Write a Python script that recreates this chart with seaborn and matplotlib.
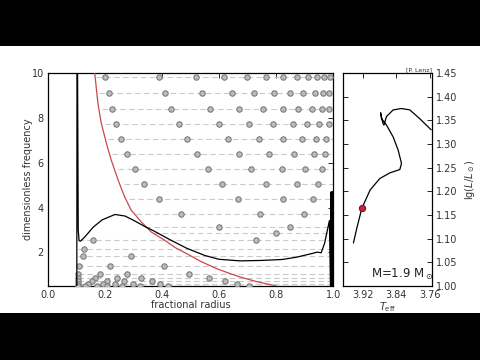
import matplotlib
matplotlib.use("Agg")
import matplotlib.pyplot as plt
import seaborn as sns
import pandas as pd
from matplotlib.patches import Rectangle

# ---------------- data ----------------
# mode frequencies (dimensionless) and where each dashed mode line starts
mode_freq = [9.83, 9.12, 8.40, 7.72, 7.04, 6.37, 5.71, 5.03, 4.37, 3.71, 3.15,
             2.85, 2.57, 2.17, 1.82, 1.37, 1.05, 0.87, 0.72, 0.60, 0.52]
mode_start = [0.17, 0.18, 0.19, 0.20, 0.21, 0.225, 0.245, 0.265, 0.285, 0.31, 0.34,
              0.37, 0.105, 0.105, 0.105, 0.105, 0.105, 0.105, 0.105, 0.105, 0.105]
# node positions (fractional radius) of each mode
mode_nodes = [
    [0.200, 0.389, 0.519, 0.618, 0.698, 0.765, 0.825, 0.874, 0.912, 0.944, 0.968, 0.989],
    [0.213, 0.409, 0.540, 0.645, 0.724, 0.793, 0.849, 0.896, 0.937, 0.966, 0.987],
    [0.225, 0.433, 0.569, 0.670, 0.755, 0.824, 0.878, 0.927, 0.962, 0.984],
    [0.240, 0.460, 0.600, 0.705, 0.788, 0.859, 0.908, 0.951, 0.984],
    [0.256, 0.489, 0.633, 0.740, 0.824, 0.890, 0.939, 0.974],
    [0.278, 0.522, 0.670, 0.776, 0.864, 0.934, 0.972],
    [0.304, 0.561, 0.712, 0.820, 0.902, 0.962],
    [0.338, 0.609, 0.764, 0.873, 0.948],
    [0.389, 0.666, 0.823, 0.931],
    [0.465, 0.744, 0.898],
    [0.598, 0.849],
    [0.800],
    [0.158, 0.730],
    [0.126],
    [0.122, 0.290],
    [0.109, 0.218, 0.408],
    [0.106, 0.182, 0.276, 0.496],
    [0.106, 0.165, 0.241, 0.325, 0.566],
    [0.106, 0.153, 0.206, 0.268, 0.364, 0.621],
    [0.106, 0.141, 0.194, 0.235, 0.299, 0.393, 0.664],
    [0.106, 0.130, 0.172, 0.207, 0.260, 0.323, 0.422, 0.706],
]

# Lamb frequency (red curve)
lamb_r = [0.158, 0.164, 0.175, 0.187, 0.205, 0.222, 0.246, 0.269, 0.292, 0.327,
          0.362, 0.409, 0.445, 0.487, 0.535, 0.592, 0.635, 0.674, 0.73, 0.79, 0.80]
lamb_f = [10.8, 9.99, 8.65, 7.75, 6.86, 6.11, 5.22, 4.47, 3.88, 3.36,
          2.91, 2.54, 2.22, 1.94, 1.60, 1.27, 1.07, 0.90, 0.70, 0.53, 0.50]

# Brunt-Vaisala frequency (black curve)
bv_r = [0.000, 0.101, 0.102, 0.106, 0.109, 0.114, 0.130, 0.159, 0.190, 0.235, 0.270,
        0.300, 0.340, 0.372, 0.430, 0.487, 0.550, 0.600, 0.674, 0.750, 0.820, 0.870,
        0.920, 0.945, 0.958, 0.970, 0.980, 0.987, 0.991, 0.993, 0.995, 0.997, 0.999, 1.000]
bv_f = [0.00, 0.00, 15.0, 3.00, 2.52, 2.50, 2.70, 3.13, 3.45, 3.69, 3.62,
        3.43, 3.15, 2.95, 2.55, 2.18, 1.86, 1.69, 1.62, 1.64, 1.68, 1.78,
        1.93, 2.01, 1.98, 2.40, 3.00, 3.42, 0.30, 4.70, 0.30, 4.70, 0.30, 4.70]

# evolutionary track in the HR diagram
track_teff = [3.943, 3.935, 3.923, 3.903, 3.880, 3.856, 3.832, 3.828, 3.836, 3.848,
              3.864, 3.876, 3.878, 3.873, 3.870, 3.864, 3.848, 3.828, 3.808, 3.785, 3.757]
track_lgl = [1.091, 1.122, 1.164, 1.203, 1.227, 1.239, 1.246, 1.259, 1.287, 1.315,
             1.340, 1.354, 1.366, 1.345, 1.340, 1.358, 1.372, 1.375, 1.372, 1.354, 1.330]
current_teff = [3.922]
current_lgl = [1.165]

x_ticks = [0.0, 0.2, 0.4, 0.6, 0.8, 1.0]
y_ticks = [2, 4, 6, 8, 10]
hr_x_ticks = [3.92, 3.84, 3.76]
hr_y_ticks = [1.00, 1.05, 1.10, 1.15, 1.20, 1.25, 1.30, 1.35, 1.40, 1.45]

# ---------------- figure ----------------
sns.set_style("white")
plt.rcParams['font.family'] = ['DejaVu Sans']
plt.rcParams['font.size'] = 7
plt.rcParams['mathtext.fontset'] = 'dejavusans'

fig = plt.figure(figsize=(4.8, 3.6), dpi=100, facecolor='black')
fig.add_artist(Rectangle((0, 1 - 313 / 360), 1, (313 - 46) / 360,
                         transform=fig.transFigure, facecolor='white',
                         edgecolor='none', zorder=-10))

ax = fig.add_axes([0.100, 0.2056, 0.594, 0.5916])
ax2 = fig.add_axes([0.7146, 0.2056, 0.1854, 0.5916])
for a in (ax, ax2):
    a.set_facecolor('white')
    for s in a.spines.values():
        s.set_color('black')
        s.set_linewidth(0.9)

# dashed mode lines
ax.hlines(mode_freq, mode_start, [1.0] * len(mode_freq), colors='#cacaca',
          linewidths=0.8, linestyles=(0, (5, 3)), zorder=1)

# nodes
rows = []
for f, nodes in zip(mode_freq, mode_nodes):
    for r in nodes:
        rows.append({'r': r, 'f': f})
nodes_df = pd.DataFrame(rows)
sns.scatterplot(data=nodes_df, x='r', y='f', ax=ax, s=15, color='#bcbcbc',
                edgecolor='#7c7c7c', linewidth=0.8, zorder=3, legend=False)

# curves
lamb_df = pd.DataFrame({'r': lamb_r, 'f': lamb_f})
bv_df = pd.DataFrame({'r': bv_r, 'f': bv_f})
sns.lineplot(data=lamb_df, x='r', y='f', ax=ax, sort=False, estimator=None,
             color='#cc4848', linewidth=0.9, zorder=4)
sns.lineplot(data=bv_df, x='r', y='f', ax=ax, sort=False, estimator=None,
             color='black', linewidth=0.9, zorder=4)

ax.set_xlim(0, 1)
ax.set_ylim(0.5, 10)
ax.set_xticks(x_ticks)
ax.set_xticklabels([f"{t:.1f}" for t in x_ticks])
ax.set_yticks(y_ticks)
ax.set_yticklabels([str(t) for t in y_ticks])
ax.tick_params(direction='in', top=True, right=True, length=3.5, width=0.7,
               labelsize=7, labelcolor='#333333', pad=3)
ax.set_xlabel('fractional radius', fontsize=7, color='#333333', labelpad=0)
ax.set_ylabel('dimensionless frequency', fontsize=7, color='#333333', labelpad=-1)

# HR diagram
track_df = pd.DataFrame({'teff': track_teff, 'lgl': track_lgl})
sns.lineplot(data=track_df, x='teff', y='lgl', ax=ax2, sort=False, estimator=None,
             color='black', linewidth=0.9)
sns.scatterplot(x=current_teff, y=current_lgl, ax=ax2, s=20, color='#cc2040',
                edgecolor='#7a1020', linewidth=0.8, zorder=5, legend=False)
ax2.set_xlim(3.968, 3.755)
ax2.set_ylim(1.0, 1.45)
ax2.set_xticks(hr_x_ticks)
ax2.set_xticklabels([f"{t:.2f}" for t in hr_x_ticks])
ax2.set_yticks(hr_y_ticks)
ax2.set_yticklabels([f"{t:.2f}" for t in hr_y_ticks])
ax2.tick_params(direction='in', top=True, right=True, left=True, labelleft=False,
                labelright=True, length=3.5, width=0.7, labelsize=7,
                labelcolor='#333333', pad=3)
ax2.yaxis.set_label_position('right')
ax2.set_xlabel(r'$T_{\rm eff}$', fontsize=7, color='#333333', labelpad=0)
ax2.set_ylabel(r'$\lg(L/L_\odot)$', fontsize=7, color='#333333', labelpad=4)

ax2.text(0.32, 0.04, r'M=1.9 M$_\odot$', transform=ax2.transAxes, fontsize=8.5,
         color='#222222', ha='left', va='baseline')
ax2.text(1.0, 1.005, '[P. Lenz]', transform=ax2.transAxes, fontsize=4.5,
         color='#333333', ha='right', va='bottom')

fig.savefig('out.png', dpi=100, facecolor=fig.get_facecolor())
